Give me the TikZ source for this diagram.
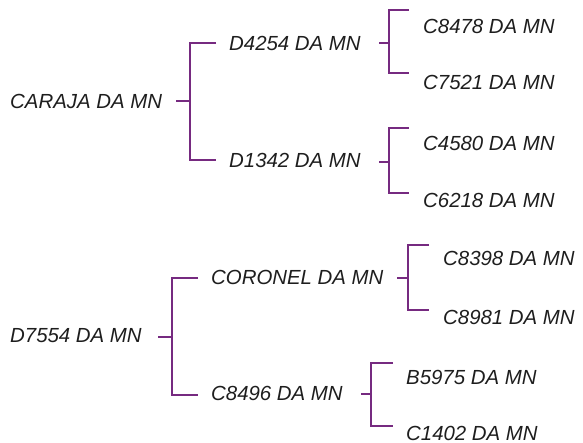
\documentclass[tikz,border=0pt]{standalone}
\usepackage{fontspec}
\setmainfont{Liberation Sans}
\definecolor{brk}{RGB}{118,42,128}
\definecolor{txt}{RGB}{30,30,30}
\begin{document}
\begin{tikzpicture}[x=1pt,y=-1pt,
  lbl/.style={anchor=west,inner sep=0pt,font=\fontsize{20.4}{23}\selectfont\itshape,text=txt},
  br/.style={draw=brk,line width=2.9pt}]
\useasboundingbox (0,0) rectangle (583,443);
% tree 1
\node[lbl] (caraja) at (10,101) {CARAJA DA MN};
\node[lbl] (d4254) at (229,43) {D4254 DA MN};
\node[lbl] (d1342) at (229,160) {D1342 DA MN};
\node[lbl] (c8478) at (423,26) {C8478 DA MN};
\node[lbl] (c7521) at (423,82) {C7521 DA MN};
\node[lbl] (c4580) at (423,143) {C4580 DA MN};
\node[lbl] (c6218) at (423,200) {C6218 DA MN};
% tree 2
\node[lbl] (d7554) at (10,336) {D7554 DA MN};
\node[lbl] (coronel) at (211,277) {CORONEL DA MN};
\node[lbl] (c8496) at (211,393) {C8496 DA MN};
\node[lbl] (c8398) at (443,258) {C8398 DA MN};
\node[lbl] (c8981) at (443,317) {C8981 DA MN};
\node[lbl] (b5975) at (406,377) {B5975 DA MN};
\node[lbl] (c1402) at (406,433) {C1402 DA MN};
% bracket joints
\coordinate (s1) at (176,101); \coordinate (j1) at (190,101);
\coordinate (a1) at (216,43);  \coordinate (b1) at (216,160);
\coordinate (s2) at (379,43);  \coordinate (j2) at (389,43);
\coordinate (a2) at (409,10);  \coordinate (b2) at (409,73);
\coordinate (s3) at (379,162); \coordinate (j3) at (389,162);
\coordinate (a3) at (409,128); \coordinate (b3) at (409,193);
\coordinate (s4) at (158,337); \coordinate (j4) at (172,337);
\coordinate (a4) at (198,278); \coordinate (b4) at (198,395);
\coordinate (s5) at (397,278); \coordinate (j5) at (408,278);
\coordinate (a5) at (429,245); \coordinate (b5) at (429,310);
\coordinate (s6) at (361,394); \coordinate (j6) at (371,394);
\coordinate (a6) at (393,363); \coordinate (b6) at (393,426);
\foreach \i in {1,...,6}{
  \draw[br] (s\i) -- (j\i);
  \draw[br] (a\i) -| (j\i) |- (b\i);
}
\end{tikzpicture}
\end{document}
